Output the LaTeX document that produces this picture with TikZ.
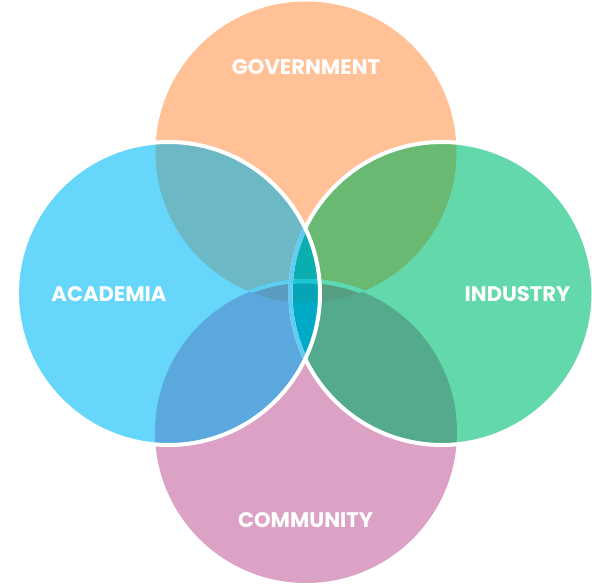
\documentclass[tikz,border=0pt]{standalone}
\usepackage{fontspec}
\setmainfont{Poppins}
\definecolor{cOr}{HTML}{FFC195}
\definecolor{cPk}{HTML}{DBA2C6}
\definecolor{cBl}{HTML}{66D6FB}
\definecolor{cGr}{HTML}{62D8AB}
\definecolor{cLT}{HTML}{6CB8C5}
\definecolor{cRT}{HTML}{6AB973}
\definecolor{cLB}{HTML}{5AA8DD}
\definecolor{cRB}{HTML}{53AA8D}
\definecolor{cLTB}{HTML}{5A9BC1}
\definecolor{cRTB}{HTML}{569F82}
\definecolor{cLens}{HTML}{0AAEAE}
\definecolor{cLensB}{HTML}{00A9C5}
\definecolor{cLensTB}{HTML}{06A4B6}
\definecolor{cBlS}{HTML}{5DCDF3}
\definecolor{cGrS}{HTML}{5EDAB0}
\definecolor{cCyS}{HTML}{1CC5D5}
\begin{document}
\begin{tikzpicture}[x=0.03cm,y=0.03cm,
  lbl/.style={text=white,font=\bfseries\fontsize{18}{18}\selectfont},
  edge/.style={line width=0.12cm}]
\useasboundingbox (0,0) rectangle (592,585);
\def\circT{(306,433) circle (150.5)}
\def\circB{(306,153) circle (151)}
\def\circL{(168.5,291.5) circle (151.5)}
\def\circR{(442,291.5) circle (151.5)}
% base fills
\fill[cOr] \circT;
\fill[cPk] \circB;
\fill[cBl] \circL;
\fill[cGr] \circR;
% left overlaps
\begin{scope}
  \clip \circL;
  \fill[cLT] \circT;
  \fill[cLB] \circB;
  \begin{scope}
    \clip \circT;
    \fill[cLTB] \circB;
  \end{scope}
\end{scope}
% right overlaps
\begin{scope}
  \clip \circR;
  \fill[cRT] \circT;
  \fill[cRB] \circB;
  \begin{scope}
    \clip \circT;
    \fill[cRTB] \circB;
  \end{scope}
\end{scope}
% central lens
\begin{scope}
  \clip \circL;
  \clip \circR;
  \fill[cLens] \circT;
  \fill[cLensB] \circB;
  \begin{scope}
    \clip \circT;
    \fill[cLensTB] \circB;
  \end{scope}
\end{scope}
% top edge of the bottom circle, seen inside the top circle
\begin{scope}
  \clip \circT;
  \draw[cBlS,edge] \circB;
  \begin{scope}
    \clip \circR;
    \draw[cGrS,edge] \circB;
    \clip \circL;
    \draw[cCyS,edge] \circB;
  \end{scope}
\end{scope}
% edge of the right circle
\draw[white,edge] \circR;
\begin{scope}
  \clip \circL;
  \draw[cBlS,edge] \circR;
\end{scope}
% edge of the left circle
\draw[white,edge] \circL;
% labels
\node[lbl] (gov) at (306,518) {GOVERNMENT};
\node[lbl] (aca) at (109,291) {ACADEMIA};
\node[lbl] (ind) at (517.5,291) {INDUSTRY};
\node[lbl] (com) at (305.5,65) {COMMUNITY};
\end{tikzpicture}
\end{document}
